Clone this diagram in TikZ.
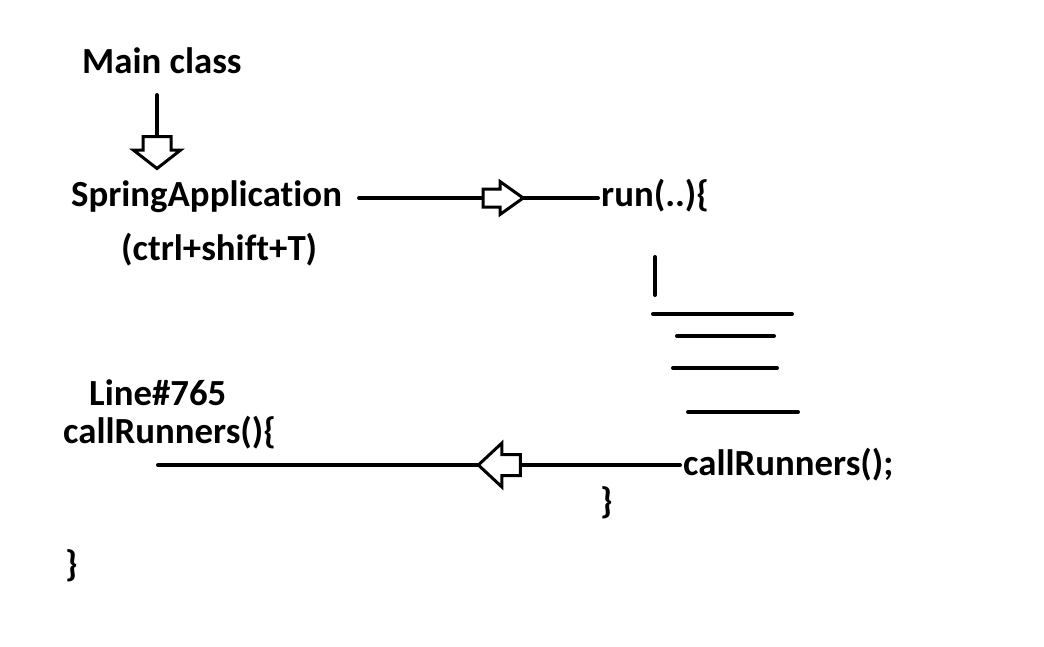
\documentclass[tikz,border=0pt]{standalone}
\usepackage{fontspec}
\setmainfont{Carlito}[Ligatures=NoCommon]
\usetikzlibrary{shapes.arrows}

\begin{document}
\begin{tikzpicture}
                        [
                            x=1pt, y=-1pt,
                            txt/.style = {font=\fontsize{36.8}{40}\selectfont\bfseries, inner sep=0pt, anchor=base west},
                            wire/.style = {line width=4pt, line cap=round},
                            blockarrow/.style = {draw, fill=white, shape=single arrow, line width=3pt, inner sep=0pt, anchor=tail},
                        ]

                        \useasboundingbox (0,0) rectangle (1044,646);

                        \node[txt] (mainclass) at (82,73)     {Main class};
                        \node[txt] (spring) at (71,206)     {SpringApplication};
                        \node[txt] (shortcut) at (121,260)     {(ctrl+shift+T)};
                        \node[txt] (run) at (601,206)     {run(..)\{};

                        \node[txt] (linenum) at (89,405)     {Line\#765};
                        \node[txt] (callrunners) at (63,443)     {callRunners()\{};
                        \node[txt] (callrun) at (683,475)     {callRunners();};
                        \node[txt] (runclose) at (600,513)     {\}};
                        \node[txt] (callclose) at (65,576)     {\}};

                        \coordinate (mctop) at (157,95);
                        \coordinate (mcbot) at (157,135);
                        \coordinate (leftend) at (158,465);

                        \draw [wire] (mctop) -- (mcbot);
                        \node[blockarrow, shape border rotate=270, inner xsep=12.5pt, minimum height=32, single arrow head extend=9.5pt, single arrow tip angle=104] (downarrow) at (mcbot) {};

                        \draw [wire] ([xshift=17pt,yshift=8pt]spring.base east) -- node[blockarrow, pos=0.513, inner ysep=7.5pt, minimum height=40, single arrow head extend=7.5pt, single arrow tip angle=71] (rightarrow) {} ([xshift=-3pt,yshift=8pt]run.base west);

                        \draw [wire] ([xshift=-3pt,yshift=10pt]callrun.base west) -- node[blockarrow, pos=0.303, shape border rotate=180, inner ysep=9pt, minimum height=42, single arrow head extend=11.5pt, single arrow tip angle=86] (leftarrow) {} (leftend);

                        % body of run(..)
                        \draw [wire] (655,257) -- (655,295);
                        \draw [wire] (653,314) -- (792,314);
                        \draw [wire] (677,336) -- (774,336);
                        \draw [wire] (673,368) -- (777,368);
                        \draw [wire] (688,412) -- (798,412);

                    \end{tikzpicture}
\end{document}
